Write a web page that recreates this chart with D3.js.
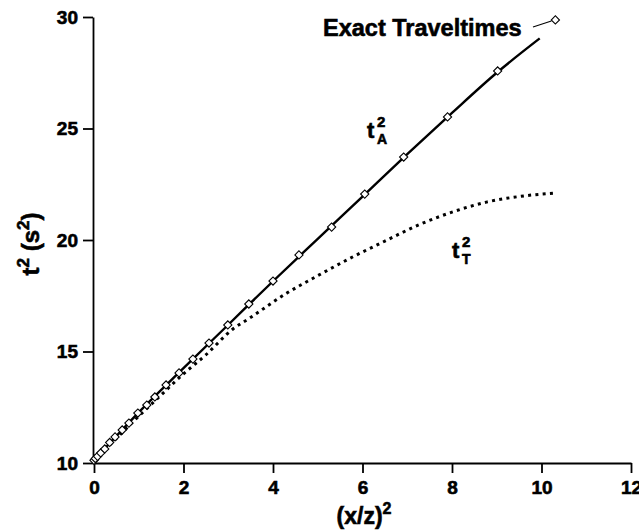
<!DOCTYPE html>
<html>
<head>
<meta charset="utf-8">
<script src="https://cdn.jsdelivr.net/npm/d3@7"></script>
<style>
  body { margin: 0; background: #fff; }
  text { font-family: "Liberation Sans", Arial, sans-serif; font-weight: bold; fill: #000; }
  .heavy { stroke: #000; stroke-width: 0.6px; }
</style>
</head>
<body>
<svg id="chart" width="639" height="531"></svg>
<script>
// exact traveltimes (diamonds)
var exactX = [0, 0.03, 0.08, 0.15, 0.24, 0.35, 0.47, 0.63, 0.78, 0.98, 1.18, 1.36, 1.61, 1.90, 2.21, 2.57, 2.99, 3.46, 4.00, 4.58, 5.31, 6.05, 6.92, 7.90, 9.02, 10.31];
var exactY = [10.12, 10.2, 10.3, 10.45, 10.63, 10.92, 11.17, 11.48, 11.79, 12.24, 12.60, 12.96, 13.50, 14.04, 14.66, 15.38, 16.19, 17.13, 18.16, 19.33, 20.58, 22.06, 23.72, 25.52, 27.58, 29.87];

// t_A^2 approximation (solid)
var tAX = [0, 1, 2, 3, 4, 5, 6, 7, 8, 9, 9.96];
var tAY = [10.12, 12.27, 14.25, 16.2, 18.15, 20.05, 21.95, 23.85, 25.7, 27.5, 29.04];

// t_T^2 approximation (dotted)
var tTX = [0, 0.5, 1, 1.5, 2, 2.5, 3.1, 3.48, 4.31, 5.0, 5.79, 6.5, 7.28, 8.0, 8.77, 9.5, 10.33];
var tTY = [10.12, 11.1, 12.1, 13.05, 14.0, 14.85, 16.0, 16.5, 17.62, 18.4, 19.25, 19.95, 20.7, 21.25, 21.7, 21.95, 22.11];

var xTicks = [0, 2, 4, 6, 8, 10, 12];
var yTicks = [10, 15, 20, 25, 30];

var svg = d3.select("svg#chart"),
	margin = {top: 17, right: 8, bottom: 68, left: 94},
	width = 639 - margin.left - margin.right,
	height = 531 - margin.top - margin.bottom;

var x = d3.scaleLinear().domain([0, 12]).range([margin.left, margin.left + width]);
var y = d3.scaleLinear().domain([10, 30]).range([margin.top + height, margin.top]);

var zip = function (xs, ys) {
	return xs.map(function (v, i) { return {x: v, y: ys[i]}; });
};

var line = d3.line()
	.x(function (d) { return x(d.x); })
	.y(function (d) { return y(d.y); })
	.curve(d3.curveMonotoneX);

// dotted t_T^2
svg.append("path")
	.datum(zip(tTX, tTY))
	.attr("d", line)
	.attr("fill", "none")
	.attr("stroke", "#000")
	.attr("stroke-width", 3)
	.attr("stroke-dasharray", "3,4.3");

// solid t_A^2
svg.append("path")
	.datum(zip(tAX, tAY))
	.attr("d", line)
	.attr("fill", "none")
	.attr("stroke", "#000")
	.attr("stroke-width", 2.4);

// axes
var xAxis = svg.append("g")
	.attr("transform", "translate(0," + y(10) + ")")
	.call(d3.axisBottom(x).tickValues(xTicks).tickSize(10).tickPadding(8).tickSizeOuter(0));
var yAxis = svg.append("g")
	.attr("transform", "translate(" + (x(0) - 1) + ",0)")
	.call(d3.axisLeft(y).tickValues(yTicks).tickSize(10).tickPadding(5).tickSizeOuter(0));

[xAxis, yAxis].forEach(function (a) {
	a.attr("font-family", null).attr("font-size", null);
	a.select(".domain").attr("stroke", "#000").attr("stroke-width", 1.8);
	a.selectAll(".tick line").attr("stroke", "#000").attr("stroke-width", 1.8);
	a.selectAll(".tick text")
		.attr("class", "heavy")
		.style("font-size", "19px")
		.attr("fill", "#000");
});

// diamonds
svg.append("g").selectAll("path")
	.data(zip(exactX, exactY))
	.enter().append("path")
	.attr("transform", function (d) { return "translate(" + x(d.x) + "," + y(d.y) + ") rotate(45)"; })
	.attr("d", "M-2.9,-2.9h5.8v5.8h-5.8z")
	.attr("fill", "#fff")
	.attr("stroke", "#000")
	.attr("stroke-width", 1.1);

// legend label with leader line to the last diamond
var last = exactX.length - 1;
svg.append("text")
	.attr("class", "heavy")
	.attr("x", 323)
	.attr("y", 36)
	.style("font-size", "23.5px")
	.text("Exact Traveltimes");
svg.append("line")
	.attr("x1", 533).attr("y1", 27)
	.attr("x2", x(exactX[last]) - 4).attr("y2", y(exactY[last]) + 1)
	.attr("stroke", "#000")
	.attr("stroke-width", 1.1);

// curve labels
var curveLabel = function (px, py, sub) {
	var g = svg.append("g").attr("class", "heavy");
	g.append("text").attr("x", px).attr("y", py).style("font-size", "22px").text("t");
	g.append("text").attr("x", px + 10).attr("y", py - 11).style("font-size", "15px").text("2");
	g.append("text").attr("x", px + 10).attr("y", py + 6).style("font-size", "14px").text(sub);
};
curveLabel(367, 138, "A");
curveLabel(452, 258, "T");

// axis titles
var xt = svg.append("text")
	.attr("class", "heavy")
	.attr("x", 364)
	.attr("y", 524)
	.attr("text-anchor", "middle")
	.style("font-size", "23px");
xt.append("tspan").text("(x/z)");
xt.append("tspan").style("font-size", "16px").attr("dy", -10).text("2");

var yt = svg.append("text")
	.attr("class", "heavy")
	.attr("transform", "translate(39,244) rotate(-90)")
	.attr("text-anchor", "middle")
	.style("font-size", "24px");
yt.append("tspan").text("t");
yt.append("tspan").style("font-size", "17px").attr("dy", -10).text("2");
yt.append("tspan").attr("dy", 10).text(" (s");
yt.append("tspan").style("font-size", "17px").attr("dy", -10).text("2");
yt.append("tspan").attr("dy", 10).text(")");
</script>
</body>
</html>
